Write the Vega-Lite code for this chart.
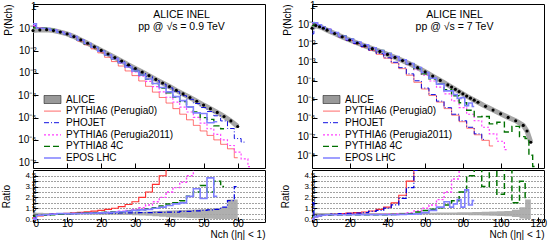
{
"$schema": "https://vega.github.io/schema/vega-lite/v6.json",
"padding": {"left": 0, "top": 0, "right": 0, "bottom": 0},
"config": {
  "font": "Liberation Sans",
  "view": {"stroke": "black", "strokeWidth": 1},
  "axis": {"labelFont": "Liberation Sans", "titleFont": "Liberation Sans", "labelFontSize": 10, "titleFontSize": 10, "titleFontWeight": "normal", "labelColor": "black", "titleColor": "black", "domainColor": "black", "tickColor": "black", "grid": false},
  "legend": {"labelFont": "Liberation Sans", "labelFontSize": 10, "labelColor": "black"}
},
"datasets": {
"top09": [
{"n":0,"ALICE":-1.10,"PYTHIA6 (Perugia0)":-0.88,"PHOJET":-0.88,"PYTHIA6 (Perugia2011)":-0.88,"PYTHIA8 4C":-0.98,"EPOS LHC":-0.80},
{"n":2,"ALICE":-1.07,"PYTHIA6 (Perugia0)":-0.97,"PHOJET":-1.00,"PYTHIA6 (Perugia2011)":-1.00,"PYTHIA8 4C":-1.00,"EPOS LHC":-1.00},
{"n":4,"ALICE":-1.06,"PYTHIA6 (Perugia0)":-1.01,"PHOJET":-1.01,"PYTHIA6 (Perugia2011)":-1.01,"PYTHIA8 4C":-0.99,"EPOS LHC":-1.01},
{"n":6,"ALICE":-1.10,"PYTHIA6 (Perugia0)":-1.08,"PHOJET":-1.08,"PYTHIA6 (Perugia2011)":-1.08,"PYTHIA8 4C":-1.05,"EPOS LHC":-1.08},
{"n":8,"ALICE":-1.17,"PYTHIA6 (Perugia0)":-1.17,"PHOJET":-1.17,"PYTHIA6 (Perugia2011)":-1.17,"PYTHIA8 4C":-1.15,"EPOS LHC":-1.17},
{"n":10,"ALICE":-1.25,"PYTHIA6 (Perugia0)":-1.26,"PHOJET":-1.25,"PYTHIA6 (Perugia2011)":-1.25,"PYTHIA8 4C":-1.25,"EPOS LHC":-1.25},
{"n":12,"ALICE":-1.37,"PYTHIA6 (Perugia0)":-1.40,"PHOJET":-1.37,"PYTHIA6 (Perugia2011)":-1.38,"PYTHIA8 4C":-1.38,"EPOS LHC":-1.37},
{"n":14,"ALICE":-1.52,"PYTHIA6 (Perugia0)":-1.57,"PHOJET":-1.53,"PYTHIA6 (Perugia2011)":-1.54,"PYTHIA8 4C":-1.54,"EPOS LHC":-1.53},
{"n":16,"ALICE":-1.67,"PYTHIA6 (Perugia0)":-1.74,"PHOJET":-1.68,"PYTHIA6 (Perugia2011)":-1.70,"PYTHIA8 4C":-1.70,"EPOS LHC":-1.68},
{"n":18,"ALICE":-1.83,"PYTHIA6 (Perugia0)":-1.92,"PHOJET":-1.85,"PYTHIA6 (Perugia2011)":-1.86,"PYTHIA8 4C":-1.86,"EPOS LHC":-1.85},
{"n":20,"ALICE":-1.99,"PYTHIA6 (Perugia0)":-2.10,"PHOJET":-2.01,"PYTHIA6 (Perugia2011)":-2.03,"PYTHIA8 4C":-2.03,"EPOS LHC":-2.02},
{"n":22,"ALICE":-2.15,"PYTHIA6 (Perugia0)":-2.30,"PHOJET":-2.17,"PYTHIA6 (Perugia2011)":-2.20,"PYTHIA8 4C":-2.20,"EPOS LHC":-2.19},
{"n":24,"ALICE":-2.31,"PYTHIA6 (Perugia0)":-2.49,"PHOJET":-2.34,"PYTHIA6 (Perugia2011)":-2.38,"PYTHIA8 4C":-2.37,"EPOS LHC":-2.36},
{"n":26,"ALICE":-2.47,"PYTHIA6 (Perugia0)":-2.69,"PHOJET":-2.50,"PYTHIA6 (Perugia2011)":-2.56,"PYTHIA8 4C":-2.54,"EPOS LHC":-2.54},
{"n":28,"ALICE":-2.64,"PYTHIA6 (Perugia0)":-2.91,"PHOJET":-2.67,"PYTHIA6 (Perugia2011)":-2.75,"PYTHIA8 4C":-2.73,"EPOS LHC":-2.73},
{"n":30,"ALICE":-2.80,"PYTHIA6 (Perugia0)":-3.12,"PHOJET":-2.83,"PYTHIA6 (Perugia2011)":-2.95,"PYTHIA8 4C":-2.91,"EPOS LHC":-2.91},
{"n":32,"ALICE":-2.96,"PYTHIA6 (Perugia0)":-3.36,"PHOJET":-3.00,"PYTHIA6 (Perugia2011)":-3.15,"PYTHIA8 4C":-3.09,"EPOS LHC":-3.09},
{"n":34,"ALICE":-3.12,"PYTHIA6 (Perugia0)":-3.60,"PHOJET":-3.16,"PYTHIA6 (Perugia2011)":-3.38,"PYTHIA8 4C":-3.28,"EPOS LHC":-3.27},
{"n":36,"ALICE":-3.29,"PYTHIA6 (Perugia0)":-3.86,"PHOJET":-3.34,"PYTHIA6 (Perugia2011)":-3.61,"PYTHIA8 4C":-3.48,"EPOS LHC":-3.47},
{"n":38,"ALICE":-3.45,"PYTHIA6 (Perugia0)":-4.10,"PHOJET":-3.50,"PYTHIA6 (Perugia2011)":-3.85,"PYTHIA8 4C":-3.68,"EPOS LHC":-3.65},
{"n":40,"ALICE":-3.61,"PYTHIA6 (Perugia0)":-4.35,"PHOJET":-3.67,"PYTHIA6 (Perugia2011)":-4.09,"PYTHIA8 4C":-3.89,"EPOS LHC":-3.85},
{"n":42,"ALICE":-3.78,"PYTHIA6 (Perugia0)":-4.60,"PHOJET":-3.84,"PYTHIA6 (Perugia2011)":-4.31,"PYTHIA8 4C":-4.08,"EPOS LHC":-4.06},
{"n":44,"ALICE":-3.94,"PYTHIA6 (Perugia0)":-4.85,"PHOJET":-4.02,"PYTHIA6 (Perugia2011)":-4.53,"PYTHIA8 4C":-4.28,"EPOS LHC":-4.24},
{"n":46,"ALICE":-4.10,"PYTHIA6 (Perugia0)":-5.10,"PHOJET":-4.18,"PYTHIA6 (Perugia2011)":-4.75,"PYTHIA8 4C":-4.52,"EPOS LHC":-4.52},
{"n":48,"ALICE":-4.27,"PYTHIA6 (Perugia0)":-5.35,"PHOJET":-4.37,"PYTHIA6 (Perugia2011)":-4.99,"PYTHIA8 4C":-4.75,"EPOS LHC":-4.79},
{"n":50,"ALICE":-4.44,"PYTHIA6 (Perugia0)":-5.60,"PHOJET":-4.55,"PYTHIA6 (Perugia2011)":-5.25,"PYTHIA8 4C":-5.00,"EPOS LHC":-4.82},
{"n":52,"ALICE":-4.60,"PYTHIA6 (Perugia0)":-5.80,"PHOJET":-4.73,"PYTHIA6 (Perugia2011)":-5.50,"PYTHIA8 4C":-5.08,"EPOS LHC":-5.23},
{"n":54,"ALICE":-4.77,"PYTHIA6 (Perugia0)":-6.00,"PHOJET":-4.92,"PYTHIA6 (Perugia2011)":-5.75,"PYTHIA8 4C":-5.37,"EPOS LHC":-5.19},
{"n":56,"ALICE":-4.95,"PYTHIA6 (Perugia0)":-6.20,"PHOJET":-5.15,"PYTHIA6 (Perugia2011)":-6.00,"PYTHIA8 4C":-5.50},
{"n":58,"ALICE":-5.15,"PYTHIA6 (Perugia0)":-6.40,"PHOJET":-5.49,"PYTHIA6 (Perugia2011)":-6.25},
{"n":60,"ALICE":-5.40,"PYTHIA6 (Perugia0)":-6.80,"PHOJET":-5.94,"PYTHIA6 (Perugia2011)":-6.55},
{"n":62,"PHOJET":-6.10,"PYTHIA6 (Perugia2011)":-6.85},
{"n":64,"PYTHIA6 (Perugia2011)":-7.20}
],
"rat09": [
{"n":0,"lo":0.9,"hi":1.1,"PYTHIA6 (Perugia0)":0.6,"PHOJET":0.6,"PYTHIA6 (Perugia2011)":0.6,"PYTHIA8 4C":0.75,"EPOS LHC":0.5},
{"n":2,"lo":0.92,"hi":1.08,"PYTHIA6 (Perugia0)":0.8,"PHOJET":0.85,"PYTHIA6 (Perugia2011)":0.85,"PYTHIA8 4C":0.85,"EPOS LHC":0.85},
{"n":4,"lo":0.93,"hi":1.07,"PYTHIA6 (Perugia0)":0.9,"PHOJET":0.9,"PYTHIA6 (Perugia2011)":0.9,"PYTHIA8 4C":0.85,"EPOS LHC":0.9},
{"n":6,"lo":0.93,"hi":1.07,"PYTHIA6 (Perugia0)":0.95,"PHOJET":0.95,"PYTHIA6 (Perugia2011)":0.95,"PYTHIA8 4C":0.9,"EPOS LHC":0.95},
{"n":8,"lo":0.93,"hi":1.07,"PYTHIA6 (Perugia0)":1.0,"PHOJET":1.0,"PYTHIA6 (Perugia2011)":1.0,"PYTHIA8 4C":0.95,"EPOS LHC":1.0},
{"n":10,"lo":0.93,"hi":1.07,"PYTHIA6 (Perugia0)":1.03,"PHOJET":1.0,"PYTHIA6 (Perugia2011)":1.0,"PYTHIA8 4C":1.0,"EPOS LHC":1.0},
{"n":12,"lo":0.92,"hi":1.08,"PYTHIA6 (Perugia0)":1.07,"PHOJET":1.0,"PYTHIA6 (Perugia2011)":1.02,"PYTHIA8 4C":1.02,"EPOS LHC":1.0},
{"n":14,"lo":0.92,"hi":1.08,"PYTHIA6 (Perugia0)":1.12,"PHOJET":1.02,"PYTHIA6 (Perugia2011)":1.04,"PYTHIA8 4C":1.04,"EPOS LHC":1.02},
{"n":16,"lo":0.92,"hi":1.08,"PYTHIA6 (Perugia0)":1.17,"PHOJET":1.03,"PYTHIA6 (Perugia2011)":1.06,"PYTHIA8 4C":1.06,"EPOS LHC":1.03},
{"n":18,"lo":0.91,"hi":1.09,"PYTHIA6 (Perugia0)":1.23,"PHOJET":1.04,"PYTHIA6 (Perugia2011)":1.08,"PYTHIA8 4C":1.08,"EPOS LHC":1.05},
{"n":20,"lo":0.9,"hi":1.1,"PYTHIA6 (Perugia0)":1.3,"PHOJET":1.05,"PYTHIA6 (Perugia2011)":1.1,"PYTHIA8 4C":1.1,"EPOS LHC":1.07},
{"n":22,"lo":0.9,"hi":1.1,"PYTHIA6 (Perugia0)":1.4,"PHOJET":1.05,"PYTHIA6 (Perugia2011)":1.13,"PYTHIA8 4C":1.12,"EPOS LHC":1.1},
{"n":24,"lo":0.89,"hi":1.11,"PYTHIA6 (Perugia0)":1.5,"PHOJET":1.06,"PYTHIA6 (Perugia2011)":1.17,"PYTHIA8 4C":1.15,"EPOS LHC":1.13},
{"n":26,"lo":0.88,"hi":1.12,"PYTHIA6 (Perugia0)":1.65,"PHOJET":1.07,"PYTHIA6 (Perugia2011)":1.22,"PYTHIA8 4C":1.18,"EPOS LHC":1.17},
{"n":28,"lo":0.87,"hi":1.13,"PYTHIA6 (Perugia0)":1.85,"PHOJET":1.08,"PYTHIA6 (Perugia2011)":1.3,"PYTHIA8 4C":1.22,"EPOS LHC":1.22},
{"n":30,"lo":0.85,"hi":1.15,"PYTHIA6 (Perugia0)":2.1,"PHOJET":1.08,"PYTHIA6 (Perugia2011)":1.4,"PYTHIA8 4C":1.3,"EPOS LHC":1.3},
{"n":32,"lo":0.83,"hi":1.17,"PYTHIA6 (Perugia0)":2.5,"PHOJET":1.1,"PYTHIA6 (Perugia2011)":1.55,"PYTHIA8 4C":1.35,"EPOS LHC":1.35},
{"n":34,"lo":0.8,"hi":1.2,"PYTHIA6 (Perugia0)":3.0,"PHOJET":1.1,"PYTHIA6 (Perugia2011)":1.8,"PYTHIA8 4C":1.45,"EPOS LHC":1.4},
{"n":36,"lo":0.76,"hi":1.24,"PYTHIA6 (Perugia0)":3.7,"PHOJET":1.12,"PYTHIA6 (Perugia2011)":2.1,"PYTHIA8 4C":1.55,"EPOS LHC":1.5},
{"n":38,"lo":0.72,"hi":1.28,"PYTHIA6 (Perugia0)":4.5,"PHOJET":1.12,"PYTHIA6 (Perugia2011)":2.5,"PYTHIA8 4C":1.7,"EPOS LHC":1.6},
{"n":40,"lo":0.68,"hi":1.3,"PYTHIA6 (Perugia0)":5.6,"PHOJET":1.15,"PYTHIA6 (Perugia2011)":3.0,"PYTHIA8 4C":1.9,"EPOS LHC":1.75},
{"n":42,"lo":0.65,"hi":1.32,"PHOJET":1.15,"PYTHIA6 (Perugia2011)":3.4,"PYTHIA8 4C":2.0,"EPOS LHC":1.9},
{"n":44,"lo":0.62,"hi":1.34,"PHOJET":1.2,"PYTHIA6 (Perugia2011)":3.9,"PYTHIA8 4C":2.2,"EPOS LHC":2.0},
{"n":46,"lo":0.6,"hi":1.35,"PHOJET":1.2,"PYTHIA6 (Perugia2011)":4.5,"PYTHIA8 4C":2.6,"EPOS LHC":2.6},
{"n":48,"lo":0.57,"hi":1.38,"PHOJET":1.25,"PYTHIA6 (Perugia2011)":5.3,"PYTHIA8 4C":3.0,"EPOS LHC":3.3},
{"n":50,"lo":0.55,"hi":1.4,"PHOJET":1.3,"PYTHIA8 4C":3.6,"EPOS LHC":2.4},
{"n":52,"lo":0.52,"hi":1.45,"PHOJET":1.35,"PYTHIA8 4C":3.0,"EPOS LHC":4.3},
{"n":54,"lo":0.5,"hi":1.5,"PHOJET":1.4,"PYTHIA8 4C":4.0,"EPOS LHC":2.6},
{"n":56,"lo":0.5,"hi":1.6,"PHOJET":1.6,"PYTHIA8 4C":3.5},
{"n":58,"lo":0.5,"hi":2.3,"PHOJET":2.2},
{"n":60,"lo":0.5,"hi":2.3,"PHOJET":3.5}
],
"top7": [
{"n":0,"ALICE":-1.20,"PYTHIA6 (Perugia0)":-0.98,"PHOJET":-1.50,"PYTHIA6 (Perugia2011)":-0.98,"PYTHIA8 4C":-1.05,"EPOS LHC":-0.90},
{"n":2,"ALICE":-1.05,"PYTHIA6 (Perugia0)":-0.90,"PHOJET":-0.95,"PYTHIA6 (Perugia2011)":-0.93,"PYTHIA8 4C":-0.93,"EPOS LHC":-0.90},
{"n":4,"ALICE":-1.12,"PYTHIA6 (Perugia0)":-1.02,"PHOJET":-1.05,"PYTHIA6 (Perugia2011)":-1.02,"PYTHIA8 4C":-1.02,"EPOS LHC":-1.02},
{"n":6,"ALICE":-1.20,"PYTHIA6 (Perugia0)":-1.13,"PHOJET":-1.15,"PYTHIA6 (Perugia2011)":-1.13,"PYTHIA8 4C":-1.13,"EPOS LHC":-1.13},
{"n":8,"ALICE":-1.30,"PYTHIA6 (Perugia0)":-1.25,"PHOJET":-1.26,"PYTHIA6 (Perugia2011)":-1.25,"PYTHIA8 4C":-1.24,"EPOS LHC":-1.25},
{"n":12,"ALICE":-1.48,"PYTHIA6 (Perugia0)":-1.46,"PHOJET":-1.46,"PYTHIA6 (Perugia2011)":-1.43,"PYTHIA8 4C":-1.43,"EPOS LHC":-1.43},
{"n":16,"ALICE":-1.66,"PYTHIA6 (Perugia0)":-1.66,"PHOJET":-1.66,"PYTHIA6 (Perugia2011)":-1.62,"PYTHIA8 4C":-1.61,"EPOS LHC":-1.61},
{"n":20,"ALICE":-1.83,"PYTHIA6 (Perugia0)":-1.85,"PHOJET":-1.84,"PYTHIA6 (Perugia2011)":-1.80,"PYTHIA8 4C":-1.78,"EPOS LHC":-1.78},
{"n":24,"ALICE":-1.99,"PYTHIA6 (Perugia0)":-2.03,"PHOJET":-2.01,"PYTHIA6 (Perugia2011)":-1.96,"PYTHIA8 4C":-1.94,"EPOS LHC":-1.94},
{"n":28,"ALICE":-2.14,"PYTHIA6 (Perugia0)":-2.20,"PHOJET":-2.18,"PYTHIA6 (Perugia2011)":-2.11,"PYTHIA8 4C":-2.09,"EPOS LHC":-2.09},
{"n":32,"ALICE":-2.29,"PYTHIA6 (Perugia0)":-2.39,"PHOJET":-2.37,"PYTHIA6 (Perugia2011)":-2.26,"PYTHIA8 4C":-2.24,"EPOS LHC":-2.24},
{"n":36,"ALICE":-2.44,"PYTHIA6 (Perugia0)":-2.59,"PHOJET":-2.55,"PYTHIA6 (Perugia2011)":-2.41,"PYTHIA8 4C":-2.39,"EPOS LHC":-2.39},
{"n":40,"ALICE":-2.60,"PYTHIA6 (Perugia0)":-2.80,"PHOJET":-2.78,"PYTHIA6 (Perugia2011)":-2.58,"PYTHIA8 4C":-2.55,"EPOS LHC":-2.55},
{"n":44,"ALICE":-2.76,"PYTHIA6 (Perugia0)":-3.06,"PHOJET":-3.02,"PYTHIA6 (Perugia2011)":-2.75,"PYTHIA8 4C":-2.72,"EPOS LHC":-2.71},
{"n":48,"ALICE":-2.93,"PYTHIA6 (Perugia0)":-3.36,"PHOJET":-3.31,"PYTHIA6 (Perugia2011)":-2.93,"PYTHIA8 4C":-2.91,"EPOS LHC":-2.89},
{"n":52,"ALICE":-3.11,"PYTHIA6 (Perugia0)":-3.71,"PHOJET":-3.64,"PYTHIA6 (Perugia2011)":-3.15,"PYTHIA8 4C":-3.11,"EPOS LHC":-3.09},
{"n":56,"ALICE":-3.31,"PYTHIA6 (Perugia0)":-4.09,"PHOJET":-4.01,"PYTHIA6 (Perugia2011)":-3.41,"PYTHIA8 4C":-3.37,"EPOS LHC":-3.30},
{"n":60,"ALICE":-3.53,"PYTHIA6 (Perugia0)":-4.45,"PHOJET":-4.40,"PYTHIA6 (Perugia2011)":-3.71,"PYTHIA8 4C":-3.64,"EPOS LHC":-3.57},
{"n":64,"ALICE":-3.76,"PYTHIA6 (Perugia0)":-4.80,"PHOJET":-4.75,"PYTHIA6 (Perugia2011)":-4.02,"PYTHIA8 4C":-3.91,"EPOS LHC":-3.87},
{"n":68,"ALICE":-3.99,"PYTHIA6 (Perugia0)":-5.15,"PHOJET":-5.10,"PYTHIA6 (Perugia2011)":-4.35,"PYTHIA8 4C":-4.18,"EPOS LHC":-4.19},
{"n":72,"ALICE":-4.23,"PYTHIA6 (Perugia0)":-5.50,"PHOJET":-5.45,"PYTHIA6 (Perugia2011)":-4.71,"PYTHIA8 4C":-4.49,"EPOS LHC":-4.55},
{"n":74,"ALICE":-4.35,"EPOS LHC":-4.55},
{"n":76,"ALICE":-4.47,"PYTHIA6 (Perugia0)":-5.85,"PHOJET":-5.80,"PYTHIA6 (Perugia2011)":-5.09,"PYTHIA8 4C":-4.81,"EPOS LHC":-4.75},
{"n":78,"ALICE":-4.59,"EPOS LHC":-4.95},
{"n":80,"ALICE":-4.71,"PYTHIA6 (Perugia0)":-6.20,"PHOJET":-6.15,"PYTHIA6 (Perugia2011)":-5.45,"PYTHIA8 4C":-5.19,"EPOS LHC":-4.91},
{"n":82,"ALICE":-4.83,"EPOS LHC":-5.34},
{"n":84,"ALICE":-4.94,"PYTHIA6 (Perugia0)":-6.55,"PHOJET":-6.50,"PYTHIA6 (Perugia2011)":-5.80,"PYTHIA8 4C":-5.59,"EPOS LHC":-5.20},
{"n":86,"ALICE":-5.05,"EPOS LHC":-5.39},
{"n":88,"ALICE":-5.16,"PYTHIA6 (Perugia0)":-6.90,"PHOJET":-6.85,"PYTHIA6 (Perugia2011)":-6.15,"PYTHIA8 4C":-5.94},
{"n":92,"ALICE":-5.38,"PYTHIA6 (Perugia0)":-7.20,"PHOJET":-7.15,"PYTHIA6 (Perugia2011)":-6.50,"PYTHIA8 4C":-5.92},
{"n":96,"ALICE":-5.58,"PYTHIA6 (Perugia0)":-7.50,"PYTHIA6 (Perugia2011)":-6.85,"PYTHIA8 4C":-6.32},
{"n":100,"ALICE":-5.78,"PYTHIA6 (Perugia2011)":-7.25,"PYTHIA8 4C":-6.23},
{"n":104,"ALICE":-5.97,"PYTHIA6 (Perugia2011)":-7.70,"PYTHIA8 4C":-6.75},
{"n":108,"ALICE":-6.15,"PYTHIA8 4C":-6.45},
{"n":112,"ALICE":-6.40,"PYTHIA8 4C":-7.00},
{"n":114,"ALICE":-6.70,"PYTHIA8 4C":-7.10},
{"n":116,"ALICE":-7.30,"PYTHIA8 4C":-8.00},
{"n":118,"PYTHIA8 4C":-8.60}
],
"rat7": [
{"n":0,"lo":0.9,"hi":1.1,"PYTHIA6 (Perugia0)":0.6,"PHOJET":2.0,"PYTHIA6 (Perugia2011)":0.6,"PYTHIA8 4C":0.7,"EPOS LHC":0.5},
{"n":2,"lo":0.92,"hi":1.08,"PYTHIA6 (Perugia0)":0.7,"PHOJET":0.8,"PYTHIA6 (Perugia2011)":0.75,"PYTHIA8 4C":0.75,"EPOS LHC":0.7},
{"n":4,"lo":0.93,"hi":1.07,"PYTHIA6 (Perugia0)":0.8,"PHOJET":0.85,"PYTHIA6 (Perugia2011)":0.8,"PYTHIA8 4C":0.8,"EPOS LHC":0.8},
{"n":6,"lo":0.93,"hi":1.07,"PYTHIA6 (Perugia0)":0.85,"PHOJET":0.9,"PYTHIA6 (Perugia2011)":0.85,"PYTHIA8 4C":0.85,"EPOS LHC":0.85},
{"n":8,"lo":0.93,"hi":1.07,"PYTHIA6 (Perugia0)":0.9,"PHOJET":0.92,"PYTHIA6 (Perugia2011)":0.9,"PYTHIA8 4C":0.88,"EPOS LHC":0.9},
{"n":12,"lo":0.93,"hi":1.07,"PYTHIA6 (Perugia0)":0.95,"PHOJET":0.95,"PYTHIA6 (Perugia2011)":0.9,"PYTHIA8 4C":0.9,"EPOS LHC":0.9},
{"n":16,"lo":0.93,"hi":1.07,"PYTHIA6 (Perugia0)":1.0,"PHOJET":1.0,"PYTHIA6 (Perugia2011)":0.92,"PYTHIA8 4C":0.9,"EPOS LHC":0.9},
{"n":20,"lo":0.93,"hi":1.07,"PYTHIA6 (Perugia0)":1.05,"PHOJET":1.02,"PYTHIA6 (Perugia2011)":0.93,"PYTHIA8 4C":0.9,"EPOS LHC":0.9},
{"n":24,"lo":0.93,"hi":1.07,"PYTHIA6 (Perugia0)":1.1,"PHOJET":1.05,"PYTHIA6 (Perugia2011)":0.93,"PYTHIA8 4C":0.9,"EPOS LHC":0.9},
{"n":28,"lo":0.93,"hi":1.07,"PYTHIA6 (Perugia0)":1.15,"PHOJET":1.1,"PYTHIA6 (Perugia2011)":0.93,"PYTHIA8 4C":0.9,"EPOS LHC":0.9},
{"n":32,"lo":0.93,"hi":1.07,"PYTHIA6 (Perugia0)":1.25,"PHOJET":1.2,"PYTHIA6 (Perugia2011)":0.93,"PYTHIA8 4C":0.9,"EPOS LHC":0.9},
{"n":36,"lo":0.93,"hi":1.07,"PYTHIA6 (Perugia0)":1.4,"PHOJET":1.3,"PYTHIA6 (Perugia2011)":0.93,"PYTHIA8 4C":0.9,"EPOS LHC":0.9},
{"n":40,"lo":0.93,"hi":1.07,"PYTHIA6 (Perugia0)":1.6,"PHOJET":1.5,"PYTHIA6 (Perugia2011)":0.95,"PYTHIA8 4C":0.9,"EPOS LHC":0.9},
{"n":44,"lo":0.93,"hi":1.07,"PYTHIA6 (Perugia0)":2.0,"PHOJET":1.8,"PYTHIA6 (Perugia2011)":0.97,"PYTHIA8 4C":0.92,"EPOS LHC":0.9},
{"n":48,"lo":0.92,"hi":1.08,"PYTHIA6 (Perugia0)":2.7,"PHOJET":2.4,"PYTHIA6 (Perugia2011)":1.0,"PYTHIA8 4C":0.95,"EPOS LHC":0.92},
{"n":52,"lo":0.92,"hi":1.08,"PYTHIA6 (Perugia0)":4.0,"PHOJET":3.4,"PYTHIA6 (Perugia2011)":1.1,"PYTHIA8 4C":1.0,"EPOS LHC":0.95},
{"n":56,"lo":0.92,"hi":1.08,"PYTHIA6 (Perugia0)":6.0,"PHOJET":5.0,"PYTHIA6 (Perugia2011)":1.25,"PYTHIA8 4C":1.15,"EPOS LHC":0.98},
{"n":60,"lo":0.92,"hi":1.08,"PYTHIA6 (Perugia2011)":1.5,"PYTHIA8 4C":1.3,"EPOS LHC":1.1},
{"n":64,"lo":0.91,"hi":1.09,"PYTHIA6 (Perugia2011)":1.8,"PYTHIA8 4C":1.4,"EPOS LHC":1.3},
{"n":68,"lo":0.9,"hi":1.1,"PYTHIA6 (Perugia2011)":2.3,"PYTHIA8 4C":1.55,"EPOS LHC":1.6},
{"n":72,"lo":0.9,"hi":1.1,"PYTHIA6 (Perugia2011)":3.0,"PYTHIA8 4C":1.8,"EPOS LHC":2.1},
{"n":74,"lo":0.9,"hi":1.1,"EPOS LHC":1.6},
{"n":76,"lo":0.89,"hi":1.11,"PYTHIA6 (Perugia2011)":4.2,"PYTHIA8 4C":2.2,"EPOS LHC":1.9},
{"n":78,"lo":0.88,"hi":1.12,"EPOS LHC":2.3},
{"n":80,"lo":0.88,"hi":1.12,"PYTHIA6 (Perugia2011)":5.5,"PYTHIA8 4C":3.0,"EPOS LHC":1.6},
{"n":82,"lo":0.87,"hi":1.13,"EPOS LHC":3.2},
{"n":84,"lo":0.86,"hi":1.14,"PYTHIA8 4C":4.5,"EPOS LHC":1.8},
{"n":86,"lo":0.85,"hi":1.15,"EPOS LHC":2.2},
{"n":88,"lo":0.85,"hi":1.15,"PYTHIA8 4C":6.0},
{"n":92,"lo":0.83,"hi":1.17,"PYTHIA8 4C":3.5},
{"n":96,"lo":0.8,"hi":1.2,"PYTHIA8 4C":5.5},
{"n":100,"lo":0.78,"hi":1.22,"PYTHIA8 4C":2.8},
{"n":104,"lo":0.75,"hi":1.25,"PYTHIA8 4C":6.0},
{"n":108,"lo":0.7,"hi":1.35,"PYTHIA8 4C":2.0},
{"n":112,"lo":0.55,"hi":1.6,"PYTHIA8 4C":4.0},
{"n":114,"lo":0.5,"hi":2.3,"PYTHIA8 4C":2.5},
{"n":116,"lo":0.5,"hi":2.3}
]
},
"hconcat": [
{
 "spacing": 0,
 "resolve": {"scale": {"y": "independent", "color": "independent", "strokeDash": "independent", "strokeWidth": "independent"}},
 "vconcat": [
 {
  "width": 232, "height": 164,
  "resolve": {"axis": {"x": "independent"}},
  "encoding": {
   "y": {"field": "v", "type": "quantitative", "scale": {"domain": [-7.26, 0.09], "nice": false, "zero": false}, "axis": {"title": "P(Nch)", "titleAngle": 270, "titleAnchor": "end", "titleAlign": "right", "titleBaseline": "top", "titleX": -30, "titleY": 0, "values": [0, -1, -2, -3, -4, -5, -6, -7], "labelExpr": "datum.value == 0 ? '1' : '10' + ['', '⁻¹', '⁻²', '⁻³', '⁻⁴', '⁻⁵', '⁻⁶', '⁻⁷', '⁻⁸'][-datum.value]", "tickSize": -5, "labelPadding": 2, "domain": false, "minExtent": 20, "maxExtent": 20}}
  },
  "layer": [
   {"data": {"name": "top09"}, "transform": [{"fold": ["ALICE"], "as": ["s", "v"]}, {"filter": "isValid(datum.v)"}], "mark": {"type": "line", "color": "#a6a6a6", "strokeWidth": 5, "interpolate": "linear"},
    "encoding": {"x": {"field": "n", "type": "quantitative", "scale": {"domain": [0, 68], "nice": false, "zero": false}, "axis": {"title": null, "labels": false, "domain": false, "tickSize": -5, "values": [0, 10, 20, 30, 40, 50, 60], "minExtent": 0, "maxExtent": 0}}}},
   {"data": {"name": "top09"}, "transform": [{"fold": ["PYTHIA6 (Perugia0)", "PHOJET", "PYTHIA6 (Perugia2011)", "PYTHIA8 4C", "EPOS LHC"], "as": ["s", "v"]}, {"filter": "isValid(datum.v)"}], "mark": {"type": "line", "interpolate": "step", "clip": true},
    "encoding": {
     "x": {"field": "n", "type": "quantitative", "scale": {"domain": [0, 68], "nice": false, "zero": false}, "axis": null},
     "color": {"field": "s", "type": "nominal", "scale": {"domain": ["ALICE", "PYTHIA6 (Perugia0)", "PHOJET", "PYTHIA6 (Perugia2011)", "PYTHIA8 4C", "EPOS LHC"], "range": ["black", "#ff3030", "#0000e0", "#ff40ff", "#007000", "#8080ff"]},
       "legend": {"orient": "none", "legendX": 7, "legendY": 90, "title": null, "symbolType": "M-0.4,0H3", "symbolSize": 100, "labelOffset": 14, "rowPadding": 0.6, "labelFontSize": 10,
        "encode": {"symbols": {"update": {"shape": {"signal": "datum.value === 'ALICE' ? 'M-0.4,-0.8H3V0.8H-0.4Z' : 'M-0.4,0H3'"}, "fill": {"signal": "datum.value === 'ALICE' ? '#999999' : 'transparent'"}}}}}},
     "strokeDash": {"field": "s", "type": "nominal", "scale": {"domain": ["ALICE", "PYTHIA6 (Perugia0)", "PHOJET", "PYTHIA6 (Perugia2011)", "PYTHIA8 4C", "EPOS LHC"], "range": [[1, 0], [1, 0], [5, 2, 1, 2], [2, 2], [6, 3], [1, 0]]}},
     "strokeWidth": {"field": "s", "type": "nominal", "scale": {"domain": ["ALICE", "PYTHIA6 (Perugia0)", "PHOJET", "PYTHIA6 (Perugia2011)", "PYTHIA8 4C", "EPOS LHC"], "range": [0.5, 1.6, 1.3, 2, 1.3, 2.5]}}
    }},
   {"data": {"name": "top09"}, "transform": [{"fold": ["ALICE"], "as": ["s", "v"]}, {"filter": "isValid(datum.v)"}], "mark": {"type": "circle", "color": "black", "size": 10, "opacity": 1},
    "encoding": {"x": {"field": "n", "type": "quantitative", "scale": {"domain": [0, 68], "nice": false, "zero": false}, "axis": {"orient": "top", "title": ["ALICE INEL", "pp @ √s = 0.9 TeV"], "titleX": 148, "titleY": 5, "titleAlign": "center", "titleBaseline": "top", "titleFontSize": 10.5, "titleLineHeight": 12.5, "titleAngle": 0, "labels": false, "ticks": false, "domain": false, "grid": false, "minExtent": 0, "maxExtent": 0}}}}
  ]
 },
 {
  "width": 232, "height": 52,
  "data": {"name": "rat09"},
  "encoding": {
   "x": {"field": "n", "type": "quantitative", "scale": {"domain": [0, 68], "nice": false, "zero": false}, "axis": {"title": "Nch (|η| < 1)", "titleAnchor": "end", "titleAlign": "right", "titleBaseline": "middle", "titleX": 232, "titleY": 12, "values": [0, 10, 20, 30, 40, 50, 60], "tickSize": -5, "labelPadding": 1, "domain": false, "labelFontSize": 10}}
  },
  "layer": [
   {"mark": {"type": "area", "color": "#a6a6a6", "interpolate": "step", "opacity": 0.9},
    "encoding": {"y": {"field": "lo", "type": "quantitative", "scale": {"domain": [0.23, 5.03], "nice": false, "zero": false}, "axis": {"title": "Ratio", "values": [0.5, 1, 1.5, 2, 2.5, 3, 3.5, 4, 4.5], "format": "~g", "grid": true, "gridDash": [1, 2], "gridColor": "#444", "labelFontSize": 8, "labelOverlap": false, "tickSize": -5, "labelPadding": 2, "domain": false, "minExtent": 20, "maxExtent": 20, "titlePadding": 2}}, "y2": {"field": "hi"}}},
   {"transform": [{"fold": ["PYTHIA6 (Perugia0)", "PHOJET", "PYTHIA6 (Perugia2011)", "PYTHIA8 4C", "EPOS LHC"], "as": ["s", "v"]}, {"filter": "isValid(datum.v)"}],
    "mark": {"type": "line", "interpolate": "step", "clip": true},
    "encoding": {
     "y": {"field": "v", "type": "quantitative", "scale": {"domain": [0.23, 5.03], "nice": false, "zero": false}, "axis": {"title": "Ratio", "values": [0.5, 1, 1.5, 2, 2.5, 3, 3.5, 4, 4.5], "format": "~g", "grid": true, "gridDash": [1, 2], "gridColor": "#444", "labelFontSize": 8, "labelOverlap": false, "tickSize": -5, "labelPadding": 2, "domain": false, "minExtent": 20, "maxExtent": 20, "titlePadding": 2}},
     "color": {"field": "s", "type": "nominal", "scale": {"domain": ["ALICE", "PYTHIA6 (Perugia0)", "PHOJET", "PYTHIA6 (Perugia2011)", "PYTHIA8 4C", "EPOS LHC"], "range": ["black", "#ff3030", "#0000e0", "#ff40ff", "#007000", "#8080ff"]}, "legend": null},
     "strokeDash": {"field": "s", "type": "nominal", "scale": {"domain": ["ALICE", "PYTHIA6 (Perugia0)", "PHOJET", "PYTHIA6 (Perugia2011)", "PYTHIA8 4C", "EPOS LHC"], "range": [[1, 0], [1, 0], [5, 2, 1, 2], [2, 2], [6, 3], [1, 0]]}, "legend": null},
     "strokeWidth": {"field": "s", "type": "nominal", "scale": {"domain": ["ALICE", "PYTHIA6 (Perugia0)", "PHOJET", "PYTHIA6 (Perugia2011)", "PYTHIA8 4C", "EPOS LHC"], "range": [1, 1.6, 1.3, 2, 1.3, 2.5]}, "legend": null}
    }}
  ]
 }
 ]
},
{
 "spacing": 0,
 "resolve": {"scale": {"y": "independent", "color": "independent", "strokeDash": "independent", "strokeWidth": "independent"}},
 "vconcat": [
 {
  "width": 232, "height": 164,
  "resolve": {"axis": {"x": "independent"}},
  "encoding": {
   "y": {"field": "v", "type": "quantitative", "scale": {"domain": [-8.68, 0.1], "nice": false, "zero": false}, "axis": {"title": "P(Nch)", "titleAngle": 270, "titleAnchor": "end", "titleAlign": "right", "titleBaseline": "top", "titleX": -30, "titleY": 0, "values": [0, -1, -2, -3, -4, -5, -6, -7, -8], "labelExpr": "datum.value == 0 ? '1' : '10' + ['', '⁻¹', '⁻²', '⁻³', '⁻⁴', '⁻⁵', '⁻⁶', '⁻⁷', '⁻⁸'][-datum.value]", "tickSize": -5, "labelPadding": 2, "domain": false, "minExtent": 20, "maxExtent": 20}}
  },
  "layer": [
   {"data": {"name": "top7"}, "transform": [{"fold": ["ALICE"], "as": ["s", "v"]}, {"filter": "isValid(datum.v)"}], "mark": {"type": "line", "color": "#a6a6a6", "strokeWidth": 5, "interpolate": "linear"},
    "encoding": {"x": {"field": "n", "type": "quantitative", "scale": {"domain": [0, 123], "nice": false, "zero": false}, "axis": {"title": null, "labels": false, "domain": false, "tickSize": -5, "values": [0, 20, 40, 60, 80, 100, 120], "minExtent": 0, "maxExtent": 0}}}},
   {"data": {"name": "top7"}, "transform": [{"fold": ["PYTHIA6 (Perugia0)", "PHOJET", "PYTHIA6 (Perugia2011)", "PYTHIA8 4C", "EPOS LHC"], "as": ["s", "v"]}, {"filter": "isValid(datum.v)"}], "mark": {"type": "line", "interpolate": "step", "clip": true},
    "encoding": {
     "x": {"field": "n", "type": "quantitative", "scale": {"domain": [0, 123], "nice": false, "zero": false}, "axis": null},
     "color": {"field": "s", "type": "nominal", "scale": {"domain": ["ALICE", "PYTHIA6 (Perugia0)", "PHOJET", "PYTHIA6 (Perugia2011)", "PYTHIA8 4C", "EPOS LHC"], "range": ["black", "#ff3030", "#0000e0", "#ff40ff", "#007000", "#8080ff"]},
       "legend": {"orient": "none", "legendX": 7, "legendY": 90, "title": null, "symbolType": "M-0.4,0H3", "symbolSize": 100, "labelOffset": 14, "rowPadding": 0.6, "labelFontSize": 10,
        "encode": {"symbols": {"update": {"shape": {"signal": "datum.value === 'ALICE' ? 'M-0.4,-0.8H3V0.8H-0.4Z' : 'M-0.4,0H3'"}, "fill": {"signal": "datum.value === 'ALICE' ? '#999999' : 'transparent'"}}}}}},
     "strokeDash": {"field": "s", "type": "nominal", "scale": {"domain": ["ALICE", "PYTHIA6 (Perugia0)", "PHOJET", "PYTHIA6 (Perugia2011)", "PYTHIA8 4C", "EPOS LHC"], "range": [[1, 0], [1, 0], [5, 2, 1, 2], [2, 2], [6, 3], [1, 0]]}},
     "strokeWidth": {"field": "s", "type": "nominal", "scale": {"domain": ["ALICE", "PYTHIA6 (Perugia0)", "PHOJET", "PYTHIA6 (Perugia2011)", "PYTHIA8 4C", "EPOS LHC"], "range": [0.5, 1.6, 1.3, 2, 1.3, 2.5]}}
    }},
   {"data": {"name": "top7"}, "transform": [{"fold": ["ALICE"], "as": ["s", "v"]}, {"filter": "isValid(datum.v)"}], "mark": {"type": "circle", "color": "black", "size": 10, "opacity": 1},
    "encoding": {"x": {"field": "n", "type": "quantitative", "scale": {"domain": [0, 123], "nice": false, "zero": false}, "axis": {"orient": "top", "title": ["ALICE INEL", "pp @ √s = 7 TeV"], "titleX": 142, "titleY": 5, "titleAlign": "center", "titleBaseline": "top", "titleFontSize": 10.5, "titleLineHeight": 12.5, "titleAngle": 0, "labels": false, "ticks": false, "domain": false, "grid": false, "minExtent": 0, "maxExtent": 0}}}}
  ]
 },
 {
  "width": 232, "height": 52,
  "data": {"name": "rat7"},
  "encoding": {
   "x": {"field": "n", "type": "quantitative", "scale": {"domain": [0, 123], "nice": false, "zero": false}, "axis": {"title": "Nch (|η| < 1)", "titleAnchor": "end", "titleAlign": "right", "titleBaseline": "middle", "titleX": 232, "titleY": 12, "values": [0, 20, 40, 60, 80, 100, 120], "tickSize": -5, "labelPadding": 1, "domain": false, "labelFontSize": 10}}
  },
  "layer": [
   {"mark": {"type": "area", "color": "#a6a6a6", "interpolate": "step", "opacity": 0.9},
    "encoding": {"y": {"field": "lo", "type": "quantitative", "scale": {"domain": [0.23, 5.03], "nice": false, "zero": false}, "axis": {"title": "Ratio", "values": [0.5, 1, 1.5, 2, 2.5, 3, 3.5, 4, 4.5], "format": "~g", "grid": true, "gridDash": [1, 2], "gridColor": "#444", "labelFontSize": 8, "labelOverlap": false, "tickSize": -5, "labelPadding": 2, "domain": false, "minExtent": 20, "maxExtent": 20, "titlePadding": 2}}, "y2": {"field": "hi"}}},
   {"transform": [{"fold": ["PYTHIA6 (Perugia0)", "PHOJET", "PYTHIA6 (Perugia2011)", "PYTHIA8 4C", "EPOS LHC"], "as": ["s", "v"]}, {"filter": "isValid(datum.v)"}],
    "mark": {"type": "line", "interpolate": "step", "clip": true},
    "encoding": {
     "y": {"field": "v", "type": "quantitative", "scale": {"domain": [0.23, 5.03], "nice": false, "zero": false}, "axis": {"title": "Ratio", "values": [0.5, 1, 1.5, 2, 2.5, 3, 3.5, 4, 4.5], "format": "~g", "grid": true, "gridDash": [1, 2], "gridColor": "#444", "labelFontSize": 8, "labelOverlap": false, "tickSize": -5, "labelPadding": 2, "domain": false, "minExtent": 20, "maxExtent": 20, "titlePadding": 2}},
     "color": {"field": "s", "type": "nominal", "scale": {"domain": ["ALICE", "PYTHIA6 (Perugia0)", "PHOJET", "PYTHIA6 (Perugia2011)", "PYTHIA8 4C", "EPOS LHC"], "range": ["black", "#ff3030", "#0000e0", "#ff40ff", "#007000", "#8080ff"]}, "legend": null},
     "strokeDash": {"field": "s", "type": "nominal", "scale": {"domain": ["ALICE", "PYTHIA6 (Perugia0)", "PHOJET", "PYTHIA6 (Perugia2011)", "PYTHIA8 4C", "EPOS LHC"], "range": [[1, 0], [1, 0], [5, 2, 1, 2], [2, 2], [6, 3], [1, 0]]}, "legend": null},
     "strokeWidth": {"field": "s", "type": "nominal", "scale": {"domain": ["ALICE", "PYTHIA6 (Perugia0)", "PHOJET", "PYTHIA6 (Perugia2011)", "PYTHIA8 4C", "EPOS LHC"], "range": [1, 1.6, 1.3, 2, 1.3, 2.5]}, "legend": null}
    }}
  ]
 }
 ]
}
],
"spacing": 13,
"resolve": {"scale": {"x": "independent", "y": "independent", "color": "independent", "strokeDash": "independent", "strokeWidth": "independent"}, "legend": {"color": "independent", "strokeDash": "independent", "strokeWidth": "independent"}}
}
